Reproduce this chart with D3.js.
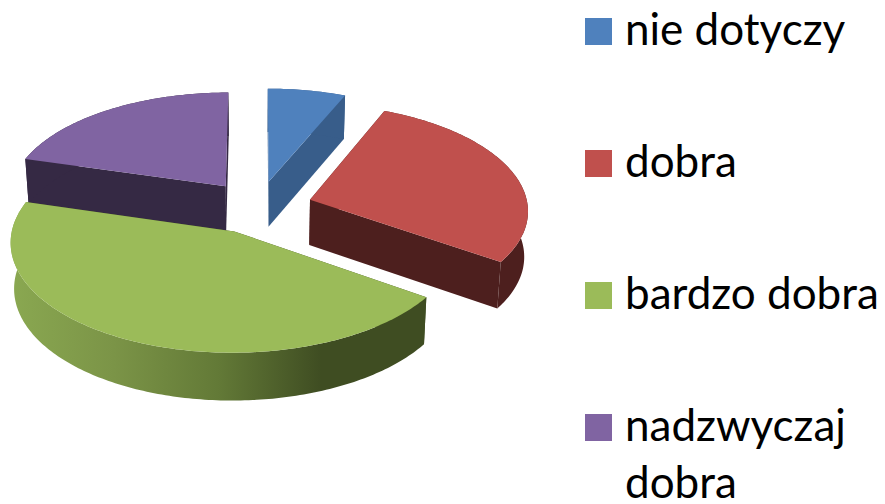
<!DOCTYPE html>
<html>
<head>
<meta charset="utf-8">
<script src="https://d3js.org/d3.v7.min.js"></script>
<style>
  html, body { margin: 0; padding: 0; background: #fff; }
  svg { display: block; }
</style>
</head>
<body>
<svg width="885" height="504"></svg>
<script>
const categories = ["nie dotyczy", "dobra", "bardzo dobra", "nadzwyczaj dobra"];
const values = [6.4, 28.2, 44.8, 20.6];
const topColors = ["#4f81bd", "#c0504d", "#9bbb59", "#8064a2"];
const wallColors = ["#385d8a", "#4d1f1e", "url(#greenWall)", "#352944"];
const legendLines = [["nie dotyczy"], ["dobra"], ["bardzo dobra"], ["nadzwyczaj", "dobra"]];
const drawOrder = [0, 3, 1, 2];

const svg = d3.select("svg");

// fake 3d: pie coords -> screen, with a bit of perspective so near side is bigger
const cx = 258, cy = 207, rx = 218, ry = 105.7, persp = 0.09, depth = 45.5, explode = 0.25;

function project(slice, angle, r, h) {
    const mid = (slice.startAngle + slice.endAngle) / 2;
    const u = explode * Math.sin(mid) + r * Math.sin(angle);
    const v = explode * Math.cos(mid) + r * Math.cos(angle);
    const s = 1 / (1 + persp * v);
    // lower rim pulls in a little, height grows slower than the top face
    return [cx + rx * u * s * (1 - 0.014 * h), cy - ry * v * s + h * depth / (1 + 0.04 * v)];
}

function arcPoints(slice, h) {
    const steps = Math.ceil((slice.endAngle - slice.startAngle) * 60);
    return d3.range(steps + 1).map((i) =>
        project(slice, slice.startAngle + (slice.endAngle - slice.startAngle) * i / steps, 1, h));
}

const line = d3.line();
const pie = d3.pie().sort(null).value((d) => d);
const slices = pie(values);

const defs = svg.append("defs");
const grad = defs.append("linearGradient").attr("id", "greenWall")
    .attr("gradientUnits", "userSpaceOnUse")
    .attr("x1", 10).attr("x2", 425).attr("y1", 0).attr("y2", 0);
grad.append("stop").attr("offset", "0%").attr("stop-color", "#8aa851");
grad.append("stop").attr("offset", "25%").attr("stop-color", "#7b9447");
grad.append("stop").attr("offset", "50%").attr("stop-color", "#637a37");
grad.append("stop").attr("offset", "75%").attr("stop-color", "#3f4d22");
grad.append("stop").attr("offset", "100%").attr("stop-color", "#3f4d22");

const g = svg.append("g");

drawOrder.forEach((i) => {
    const d = slices[i];
    const wall = wallColors[i];
    const tipTop = project(d, 0, 0, 0);
    const tipBottom = project(d, 0, 0, 1);

    // cut faces, the back ones end up under the top face anyway
    [d.startAngle, d.endAngle].forEach((a) => {
        g.append("path")
            .attr("d", line([tipTop, project(d, a, 1, 0), project(d, a, 1, 1), tipBottom]) + "Z")
            .attr("fill", i === 2 ? "#3f4d22" : wall);
    });

    // outer wall
    g.append("path")
        .attr("d", line(arcPoints(d, 0).concat(arcPoints(d, 1).reverse())) + "Z")
        .attr("fill", wall);

    // top face
    g.append("path")
        .attr("d", line([tipTop].concat(arcPoints(d, 0))) + "Z")
        .attr("fill", topColors[i]);
});

const legendY = d3.scalePoint().domain(categories).range([18, 414]);

const legend = svg.append("g").selectAll("g")
    .data(categories)
    .enter().append("g")
    .attr("transform", (d) => "translate(585," + legendY(d) + ")");

legend.append("rect")
    .attr("width", 27).attr("height", 27)
    .attr("fill", (d, i) => topColors[i]);

legend.each(function(d, i) {
    d3.select(this).selectAll("text")
        .data(legendLines[i])
        .enter().append("text")
        .attr("x", 40)
        .attr("y", (t, j) => 27 + j * 57)
        .attr("font-family", "Lato, Carlito, sans-serif")
        .attr("font-size", "44px")
        .attr("fill", "#000")
        .text((t) => t);
});
</script>
</body>
</html>
